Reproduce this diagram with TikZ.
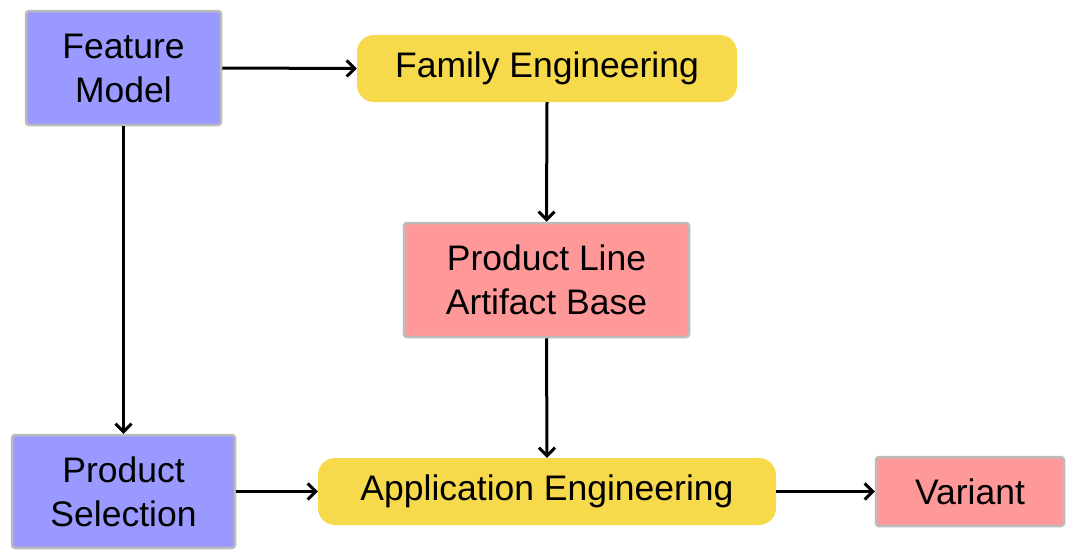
\documentclass[tikz,border=0pt]{standalone}
\usepackage{fontspec}
\setmainfont{Liberation Sans}
\usetikzlibrary{arrows.meta}
\definecolor{blueF}{HTML}{9999FF}
\definecolor{redF}{HTML}{FF9999}
\definecolor{yelF}{HTML}{F7DA4C}
\definecolor{bordC}{HTML}{BBBBBB}
\begin{document}
\begin{tikzpicture}[x=1pt,y=-1pt,
  box/.style={draw=bordC,line width=2.5pt,rounded corners=3pt,align=center,inner sep=0pt,font=\fontsize{35.5}{44}\selectfont},
  pill/.style={draw=none,rounded corners=17pt,fill=yelF,align=center,inner sep=0pt,font=\fontsize{35.5}{44}\selectfont},
  conn/.style={line width=3pt,-{Straight Barb[length=8pt,width=16pt,line width=3pt]}}]
\useasboundingbox (0,0) rectangle (1066,557);
\node[box,fill=blueF,minimum width=195pt,minimum height=114pt] (fm) at (123.5,68) {Feature\\Model};
\node[pill,minimum width=380pt,minimum height=67pt] (fe) at (547,68.5) {Family Engineering};
\node[box,fill=redF,minimum width=285pt,minimum height=114pt] (plab) at (546.5,280) {Product Line\\Artifact Base};
\node[box,fill=blueF,minimum width=223pt,minimum height=113pt] (ps) at (123.5,491.5) {Product\\Selection};
\node[pill,minimum width=458pt,minimum height=67pt] (ae) at (547,491.5) {Application Engineering};
\node[box,fill=redF,minimum width=188pt,minimum height=69pt] (v) at (970,491.5) {Variant};
\draw[conn] (fm.east) -- (fe.west);
\draw[conn] (fe.south) -- (plab.north);
\draw[conn] (plab.south) -- (ae.north);
\draw[conn] (fm.south) -- (ps.north);
\draw[conn] (ps.east) -- (ae.west);
\draw[conn] (ae.east) -- (v.west);
\end{tikzpicture}
\end{document}
